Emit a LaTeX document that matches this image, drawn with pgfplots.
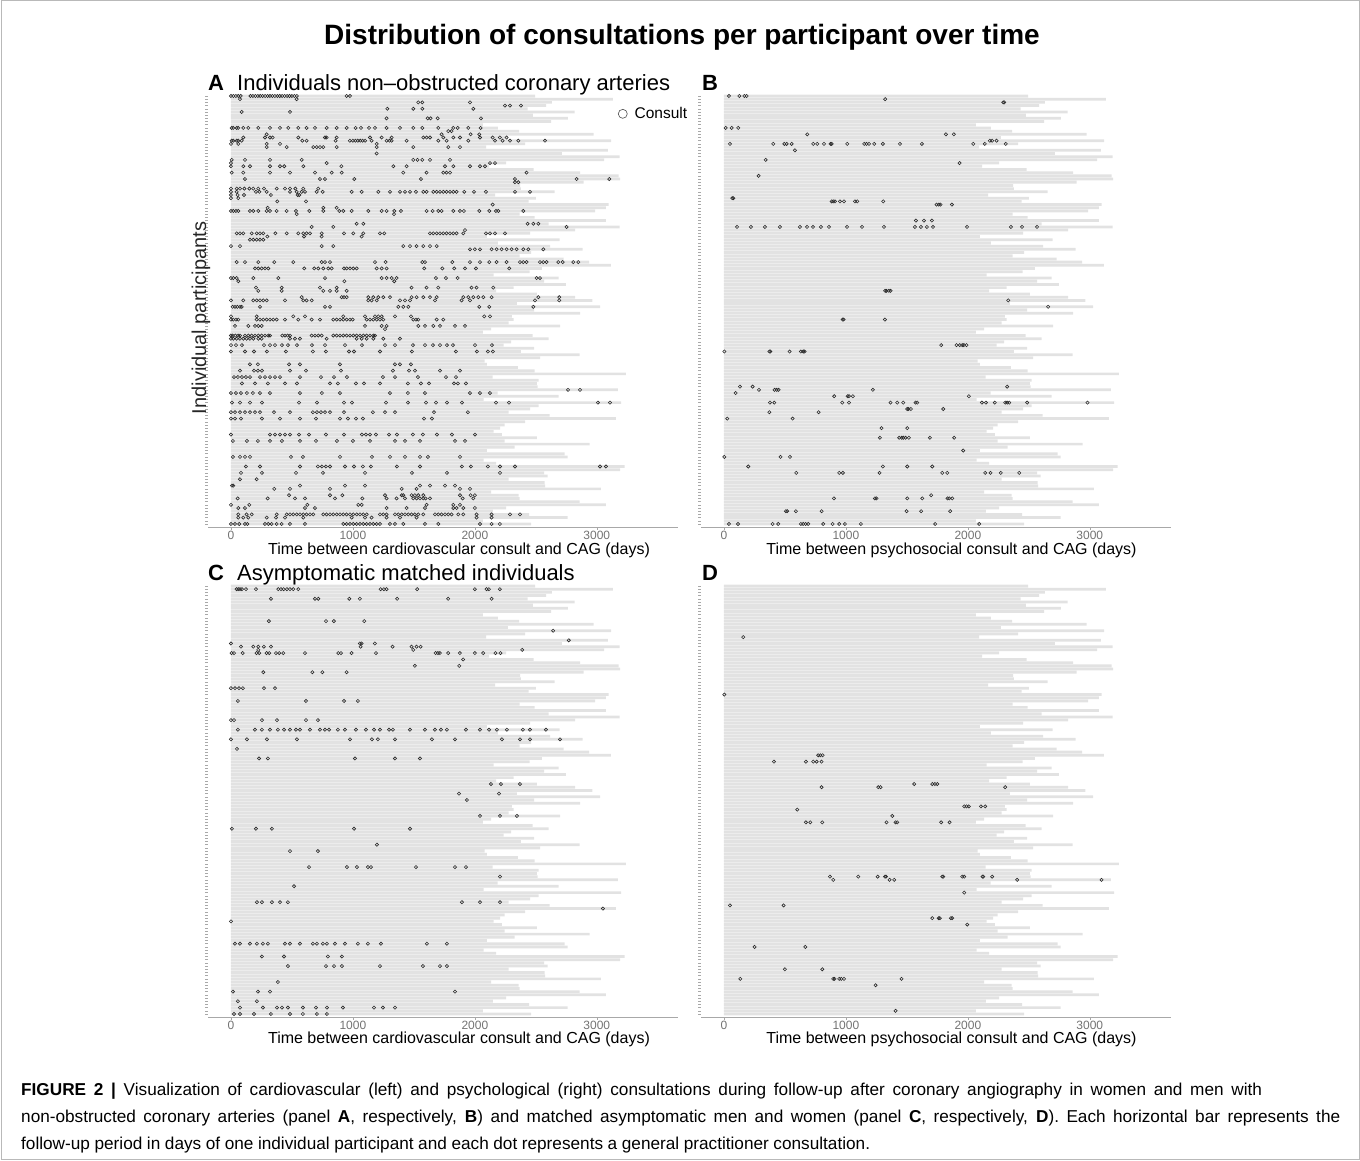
\documentclass[border=0pt]{standalone}
\usepackage{pgfplots}
\pgfplotsset{compat=1.18}
\usepackage{pgfplotstable}
\usepackage{fontspec}
\setmainfont{Liberation Sans}
\newfontfamily\capfont{Liberation Sans}
\definecolor{barcol}{HTML}{E2E2E2}
\definecolor{dotcol}{HTML}{2A2A2A}
\definecolor{axcol}{HTML}{A8A8A8}

\pgfplotstableread{
p len
135 2494
134 3131
133 2631
132 2585
131 2432
130 2817
129 2475
128 2762
127 2626
126 2066
125 2189
124 2363
123 2973
122 2270
121 3117
120 2413
119 2093
118 3090
117 2713
116 3186
115 3060
114 2257
113 2117
112 2481
111 2863
110 3178
109 3191
108 2891
107 2372
106 2377
105 2653
104 2167
103 2500
102 2440
101 3096
100 3074
99 2986
98 2366
97 2489
96 3074
95 2604
94 3186
93 2822
92 2454
91 2098
90 2694
89 2189
88 2617
87 2883
86 2462
85 2366
84 2727
83 2937
82 3115
81 2549
80 2448
79 2153
78 2686
77 2568
76 2746
75 2317
74 2175
73 2508
72 2822
71 2964
70 2344
69 3027
68 2486
67 2863
66 2303
65 2317
64 2276
63 2699
62 2134
61 2066
60 2473
59 2604
58 2298
57 2235
56 2486
55 2377
54 2858
53 2536
52 2079
51 2098
50 2352
49 2489
48 3238
47 2145
46 2522
45 2508
44 2514
43 3172
42 2186
41 2686
40 2071
39 3200
38 2522
37 2454
36 2276
35 2612
34 3156
33 2413
32 2243
31 2208
30 2153
29 2221
28 2508
27 2243
26 2940
25 2325
24 2098
23 2735
22 2760
21 2071
20 2175
19 3227
18 3191
17 2568
16 2596
15 2276
14 2571
13 2577
12 3033
11 2134
10 2358
9 2366
8 2858
7 3074
6 2257
5 2147
4 2445
3 2760
2 2066
1 2462
}\bars

\pgfplotsset{
  panel/.style={
    scale only axis, width=470pt, height=434pt,
    xmin=-185, xmax=3669, ymin=0.06, ymax=135.94,
    axis x line=bottom, axis y line=left,
    axis line style={-, draw=axcol, line width=0.7pt},
    y axis line style={draw=none},
    xtick={0,1000,2000,3000},
    ytick={1,...,135}, yticklabel=\empty,
    tick align=outside, major tick length=3pt,
    tick style={draw=axcol, line width=0.5pt},
    xticklabel style={font=\fontsize{12}{12}\selectfont, text=black!55, inner sep=0.5pt},
    /pgf/number format/1000 sep={},
    /pgf/number format/assume math mode=true,
  },
  barsty/.style={xbar, bar width=2.7pt, fill=barcol, draw=none, forget plot},
  dotsty/.style={only marks, mark=o, mark size=1.6pt, mark options={draw=dotcol, line width=0.6pt}},
}

\begin{document}
\begin{tikzpicture}[x=1pt,y=1pt]
\path[use as bounding box] (0,0) rectangle (1360,1161);
\draw[gray!55, line width=1pt] (1,1) rectangle (1359,1160);
\node[anchor=base, inner sep=0, font=\bfseries\fontsize{28}{30}\selectfont] at (682,1116) {Distribution of consultations per participant over time};

% ---------- Panel A ----------
\begin{axis}[panel, at={(208.4pt,1068pt)}, anchor=north west,
  legend style={at={(rel axis cs:0.871,0.952)}, anchor=west, draw=none, fill=none,
    font=\fontsize{15.5}{15.5}\selectfont, inner sep=0pt, legend cell align=left}]
\addplot[barsty] table[x=len, y=p] {\bars};
\addplot[dotsty, legend image code/.code={\draw[black!70, line width=0.6pt] (0.1cm,0cm) circle (4.5pt);}] coordinates {
(0,135)(20,135)(40,135)(60,135)(80,135)(160,135)(180,135)(200,135)(220,135)(240,135)(260,135)(280,135)(300,135)(320,135)(340,135)(360,135)(380,135)(400,135)(420,135)(440,135)(460,135)(480,135)(500,135)(520,135)(540,135)(948,135)(976,135)
(74,134)(539,134)
(1536,133)(1569,133)(1960,133)
(2247,132)(2288,132)(2378,132)
(1282,131)(1495,131)(1569,131)(1987,131)
(88,130)(484,130)
(1276,128)(1613,128)(1637,128)(1695,128)(2050,128)
(6,125)(19,125)(47,125)(60,125)(101,125)(142,125)(224,125)(320,125)(402,125)(470,125)(552,125)(620,125)(689,125)(785,125)(867,125)(949,125)(1022,125)(1066,125)(1132,125)(1181,125)(1276,125)(1386,125)(1495,125)(1569,125)(1700,125)(1823,125)(1859,125)(1946,125)(2047,125)
(1782,124)(1809,124)
(293,123)(1727,123)(1965,123)(2036,123)
(101,122)(279,122)(320,122)(342,122)(552,122)(771,122)(785,122)(867,122)(1140,122)(1236,122)(1318,122)(1577,122)(1604,122)(1632,122)(1741,122)(1823,122)(1878,122)(2042,122)(2146,122)(2205,122)(2260,122)
(6,121)(19,121)(47,121)(60,121)(88,121)(585,121)(620,121)(858,121)(975,121)(1000,121)(1020,121)(1040,121)(1060,121)(1080,121)(1100,121)(1153,121)(1276,121)(1300,121)(1317,121)(1440,121)(1700,121)(1768,121)(1946,121)(2165,121)(2227,121)(2288,121)(2356,121)(2575,121)
(0,120)(60,120)(293,120)(402,120)(1195,120)
(293,119)(457,119)(675,119)(703,119)(730,119)(757,119)(867,119)(1195,119)(1495,119)(1782,119)(1878,119)
(1195,117)
(6,115)(115,115)(320,115)(580,115)(1495,115)(1530,115)(1569,115)(1632,115)(1796,115)
(0,114)(785,114)(2124,114)(2165,114)
(0,113)(101,113)(156,113)(320,113)(402,113)(437,113)(593,113)(905,113)(1331,113)(1440,113)(1755,113)(1823,113)(1960,113)(2042,113)(2083,113)
(6,111)(101,111)(320,111)(484,111)(689,111)(826,111)(908,111)(1413,111)(1604,111)(1741,111)(1768,111)(1796,111)(2424,111)
(115,109)(730,109)(771,109)(1011,109)(1558,109)(2329,109)(2834,109)(3102,109)
(2329,108)(2356,108)
(0,106)(47,106)(74,106)(110,106)(151,106)(183,106)(224,106)(271,106)(375,106)(443,106)(484,106)(528,106)(593,106)(716,106)
(0,105)(47,105)(205,105)(233,105)(293,105)(484,105)(539,105)(580,105)(607,105)(703,105)(752,105)(990,105)(1072,105)(1208,105)(1304,105)(1386,105)(1427,105)(1468,105)(1517,105)(1577,105)(1604,105)(1659,105)(1687,105)(1714,105)(1741,105)(1768,105)(1796,105)(1823,105)(1850,105)(1913,105)(1993,105)(2091,105)(2329,105)(2452,105)
(0,104)(55,104)(107,104)(328,104)(547,104)(560,104)
(0,103)(60,103)
(380,102)(615,102)
(2146,101)
(301,100)(757,100)(867,100)
(0,99)(19,99)(41,99)(60,99)(156,99)(183,99)(224,99)(293,99)(320,99)(375,99)(457,99)(533,99)(642,99)(757,99)(888,99)(921,99)(990,99)(1126,99)(1236,99)(1276,99)(1339,99)(1394,99)(1604,99)(1654,99)(1700,99)(1727,99)(1823,99)(1878,99)(1910,99)(2036,99)(2118,99)(2173,99)(2192,99)(2397,99)
(539,98)(1337,98)
(1031,95)(1085,95)(2432,95)(2479,95)(2520,95)
(662,94)(839,94)(2752,94)
(1919,93)
(47,92)(74,92)(101,92)(170,92)(211,92)(238,92)(265,92)(364,92)(457,92)(552,92)(593,92)(620,92)(648,92)(744,92)(927,92)(1003,92)(1085,92)(1222,92)(1257,92)(1632,92)(1659,92)(1687,92)(1714,92)(1741,92)(1768,92)(1796,92)(1823,92)(1850,92)(1905,92)(2091,92)(2124,92)(2165,92)(2247,92)
(298,91)(599,91)(744,91)(1072,91)
(156,90)(183,90)(211,90)(238,90)(265,90)
(0,88)(74,88)(744,88)(839,88)(1413,88)(1468,88)(1522,88)(1577,88)(1632,88)(1687,88)
(1960,87)(2000,87)(2042,87)(2137,87)(2178,87)(2219,87)(2260,87)(2301,87)(2342,87)(2397,87)(2438,87)(2561,87)
(47,83)(115,83)(224,83)(355,83)(511,83)(744,83)(771,83)(812,83)(1181,83)(1268,83)(1569,83)(1591,83)(1815,83)(1960,83)(2042,83)(2118,83)(2178,83)(2260,83)(2370,83)(2397,83)(2424,83)(2534,83)(2561,83)(2588,83)(2684,83)(2720,83)(2807,83)(2848,83)
(197,81)(224,81)(252,81)(279,81)(306,81)(601,81)(683,81)(716,81)(757,81)(798,81)(826,81)(927,81)(949,81)(976,81)(1003,81)(1031,81)(1195,81)(1236,81)(1276,81)(1585,81)(1733,81)(1831,81)(1919,81)(2009,81)(2282,81)
(0,78)(19,78)(47,78)(183,78)(388,78)(771,78)(1236,78)(1276,78)(1318,78)(1358,78)(1681,78)(1763,78)(1859,78)(2506,78)(2534,78)
(60,77)(930,77)(1339,77)
(205,75)(416,75)(730,75)(867,75)(1481,75)(1604,75)(1700,75)(1973,75)(2014,75)(2151,75)
(224,74)(416,74)(757,74)(812,74)(867,74)(949,74)
(580,72)(908,72)(927,72)(949,72)(1126,72)(1167,72)(1208,72)(1249,72)(1304,72)(1481,72)(1522,72)(1577,72)(1632,72)(1687,72)(1905,72)(1946,72)(1987,72)(2028,72)(2069,72)(2137,72)(2520,72)(2692,72)
(0,71)(101,71)(183,71)(211,71)(238,71)(265,71)(293,71)(443,71)(593,71)(620,71)(662,71)(1126,71)(1153,71)(1195,71)(1386,71)(1427,71)(1468,71)(1673,71)(1891,71)(1960,71)(2493,71)(2692,71)
(14,69)(33,69)(52,69)(74,69)(88,69)(238,69)(771,69)(812,69)(1372,69)(1413,69)(1454,69)(2036,69)(2118,69)(2479,69)
(0,66)(211,66)(511,66)(607,66)(921,66)(1099,66)(1181,66)(1208,66)(1236,66)(1345,66)(1476,66)(2077,66)(2124,66)
(0,65)(19,65)(41,65)(60,65)(211,65)(238,65)(265,65)(293,65)(320,65)(347,65)(375,65)(443,65)(552,65)(662,65)(730,65)(839,65)(867,65)(894,65)(921,65)(949,65)(976,65)(998,65)(1113,65)(1140,65)(1167,65)(1195,65)(1222,65)(1249,65)(1495,65)(1517,65)(1536,65)(1687,65)(1741,65)
(33,63)(142,63)(197,63)(224,63)(252,63)(1099,63)(1236,63)(1276,63)(1536,63)(1591,63)(1659,63)(1714,63)(1837,63)(1919,63)
(1263,62)
(0,60)(14,60)(36,60)(58,60)(74,60)(115,60)(142,60)(170,60)(197,60)(224,60)(252,60)(279,60)(306,60)(320,60)(421,60)(443,60)(465,60)(484,60)(662,60)(689,60)(716,60)(744,60)(839,60)(867,60)(894,60)(921,60)(949,60)(976,60)(1003,60)(1031,60)(1058,60)(1085,60)(1113,60)(1140,60)(1167,60)(1181,60)
(0,59)(19,59)(47,59)(74,59)(101,59)(128,59)(156,59)(183,59)(224,59)(252,59)(484,59)(525,59)(566,59)(785,59)(1031,59)(1072,59)(1113,59)(1167,59)(1249,59)(1386,59)
(0,57)(41,57)(90,57)(271,57)(320,57)(361,57)(418,57)(467,57)(541,57)(664,57)(771,57)(935,57)(1074,57)(1263,57)(1345,57)(1492,57)(1591,57)(1656,57)(1714,57)(1771,57)(1820,57)(2001,57)(2140,57)
(0,55)(115,55)(189,55)(295,55)(451,55)(672,55)(779,55)(968,55)(1009,55)(1222,55)(1484,55)(1845,55)(2017,55)(2107,55)(2148,55)
(156,51)(221,51)(476,51)(566,51)(894,51)(1345,51)(1386,51)(1476,51)
(74,49)(189,49)(221,49)(254,49)(484,49)(615,49)(902,49)(1328,49)(1460,49)(1509,49)(1714,49)(1878,49)
(25,47)(57,47)(90,47)(123,47)(156,47)(238,47)(279,47)(320,47)(361,47)(402,47)(566,47)(738,47)(845,47)(951,47)(1246,47)(1345,47)(1533,47)(1763,47)(1845,47)
(90,45)(197,45)(303,45)(443,45)(541,45)(812,45)(877,45)(1025,45)(1091,45)(1222,45)(1451,45)(1558,45)(1624,45)(1829,45)(1861,45)(1927,45)
(2764,43)(2862,43)
(0,42)(41,42)(82,42)(131,42)(180,42)(238,42)(320,42)(566,42)(746,42)(894,42)(1304,42)(1451,42)(1591,42)(1960,42)(2042,42)(2124,42)
(8,39)(74,39)(156,39)(254,39)(558,39)(705,39)(927,39)(992,39)(1271,39)(1451,39)(1599,39)(1681,39)(1771,39)(1894,39)(2173,39)(2280,39)(3009,39)(3108,39)
(0,36)(33,36)(74,36)(115,36)(156,36)(197,36)(238,36)(353,36)(484,36)(672,36)(705,36)(738,36)(771,36)(812,36)(927,36)(1164,36)(1263,36)(1345,36)(1665,36)(1943,36)
(0,34)(33,34)(82,34)(254,34)(402,34)(566,34)(697,34)(894,34)(959,34)(1025,34)(1082,34)(1583,34)(1648,34)
(0,29)(320,29)(361,29)(402,29)(443,29)(484,29)(558,29)(640,29)(779,29)(927,29)(1074,29)(1107,29)(1140,29)(1189,29)(1296,29)(1361,29)(1492,29)(1574,29)(1689,29)(1812,29)(2001,29)
(16,27)(131,27)(221,27)(320,27)(418,27)(566,27)(697,27)(869,27)(1000,27)(1140,27)(1345,27)(1427,27)(1550,27)(1837,27)(1919,27)
(16,22)(74,22)(115,22)(156,22)(492,22)(590,22)(894,22)(1156,22)(1304,22)(1427,22)(1550,22)(1615,22)(1878,22)
(123,19)(238,19)(566,19)(713,19)(746,19)(779,19)(812,19)(935,19)(1009,19)(1082,19)(1148,19)(1361,19)(1550,19)(1894,19)(1968,19)(2107,19)(2206,19)(2329,19)(3026,19)(3075,19)
(82,17)(254,17)(533,17)(754,17)(1099,17)(1484,17)(1771,17)(2206,17)
(74,15)(211,15)
(8,13)(19,13)(566,13)(935,13)(1099,13)(1550,13)(1632,13)(1755,13)(1837,13)
(355,12)(484,12)(812,12)(1400,12)(1522,12)(1878,12)(1960,12)
(476,10)(812,10)(913,10)(1263,10)(1400,10)(1413,10)(1481,10)(1508,10)(1536,10)(1577,10)(1878,10)(1965,10)(2000,10)
(55,9)(301,9)(525,9)(607,9)(853,9)(1077,9)(1276,9)(1358,9)(1427,9)(1495,9)(1522,9)(1550,9)(1577,9)(1596,9)(1632,9)(1900,9)(1987,9)
(0,7)(150,7)(626,7)(1044,7)(1072,7)(1604,7)(1823,7)(1878,7)
(60,6)(115,6)(607,6)(689,6)(1276,6)(1440,6)(1591,6)(1823,6)(1850,6)(1905,6)(2000,6)
(60,4)(128,4)(170,4)(375,4)(457,4)(484,4)(511,4)(539,4)(566,4)(593,4)(620,4)(648,4)(675,4)(757,4)(784,4)(812,4)(839,4)(867,4)(894,4)(921,4)(948,4)(976,4)(1003,4)(1031,4)(1058,4)(1085,4)(1113,4)(1222,4)(1249,4)(1276,4)(1345,4)(1372,4)(1400,4)(1427,4)(1454,4)(1481,4)(1508,4)(1536,4)(1577,4)(1673,4)(1700,4)(1727,4)(1755,4)(1782,4)(1809,4)(1864,4)(1905,4)(2014,4)(2137,4)(2288,4)(2370,4)
(60,3)(101,3)(142,3)(293,3)(369,3)(443,3)(593,3)(990,3)(1099,3)(1153,3)(1276,3)(1386,3)(1522,3)(2014,3)(2137,3)
(0,1)(33,1)(68,1)(115,1)(134,1)(279,1)(306,1)(334,1)(375,1)(416,1)(484,1)(607,1)(921,1)(949,1)(976,1)(1003,1)(1031,1)(1058,1)(1085,1)(1113,1)(1140,1)(1167,1)(1195,1)(1222,1)(1304,1)(1345,1)(1413,1)(1591,1)(1700,1)(2042,1)(2137,1)(2205,1)
};
\addlegendentry{\hspace{5pt}Consult}
\end{axis}

% ---------- Panel B ----------
\begin{axis}[panel, at={(701.4pt,1068pt)}, anchor=north west]
\addplot[barsty] table[x=len, y=p] {\bars};
\addplot[dotsty] coordinates {
(41,135)(126,135)(167,135)(186,135)
(1322,134)
(2290,133)(2298,133)
(14,125)(63,125)(117,125)
(683,123)(1820,123)(1885,123)
(2180,121)(2199,121)(2235,121)
(49,120)(404,120)(495,120)(514,120)(555,120)(732,120)(765,120)(820,120)(874,120)(883,120)(1011,120)(1150,120)(1169,120)(1189,120)(1232,120)(1303,120)(1443,120)(1623,120)(2044,120)(2139,120)(2311,120)
(582,118)
(342,115)
(1932,114)
(284,110)
(68,103)(77,103)
(883,102)(896,102)(910,102)(951,102)(984,102)(1074,102)(1093,102)(1306,102)
(1743,101)(1762,101)(1776,101)(1869,101)
(1574,96)(1640,96)(1705,96)
(107,94)(221,94)(336,94)(459,94)(623,94)(681,94)(730,94)(795,94)(861,94)(1009,94)(1132,94)(1312,94)(1566,94)(1615,94)(1664,94)(1714,94)(1993,94)(2353,94)(2444,94)(2567,94)
(1322,74)(1333,74)(1352,74)(1366,74)
(2331,71)
(2658,69)
(973,65)(981,65)(1320,65)
(1781,57)(1907,57)(1934,57)(1954,57)(1967,57)(1989,57)
(3,55)(372,55)(380,55)(538,55)(631,55)(650,55)(661,55)
(131,44)(235,44)(2322,44)
(287,43)(415,43)(432,43)(448,43)(1221,43)
(96,42)
(904,41)(1014,41)(1025,41)(1057,41)(2008,41)
(377,39)(413,39)(970,39)(1025,39)(1366,39)(1421,39)(1470,39)(1571,39)(1585,39)(2115,39)(2148,39)(2221,39)(2306,39)(2322,39)(2339,39)(2486,39)(2981,39)
(1503,37)(1514,37)(1533,37)(1798,37)
(372,36)(776,36)
(27,34)(563,34)
(1292,31)(1503,31)
(1279,28)(1437,28)(1456,28)(1470,28)(1489,28)(1516,28)(1689,28)(1888,28)
(1962,24)
(3,22)(464,22)(541,22)
(199,19)(1303,19)(1503,19)(1708,19)
(593,17)(945,17)(975,17)(1276,17)(1790,17)(1831,17)(2142,17)(2186,17)(2270,17)(2421,17)
(1699,10)
(902,9)(1238,9)(1251,9)(1503,9)(1626,9)(1833,9)(1847,9)(1872,9)
(508,5)(519,5)(590,5)(801,5)(1497,5)(1617,5)(1855,5)
(41,1)(115,1)(399,1)(445,1)(631,1)(650,1)(669,1)(691,1)(814,1)(891,1)(945,1)(992,1)(1123,1)(1732,1)(2093,1)
};
\end{axis}

% ---------- Panel C ----------
\begin{axis}[panel, at={(208.4pt,578pt)}, anchor=north west]
\addplot[barsty] table[x=len, y=p] {\bars};
\addplot[dotsty] coordinates {
(46,134)(60,134)(74,134)(90,134)(123,134)(205,134)(388,134)(410,134)(432,134)(459,134)(484,134)(511,134)(552,134)(1227,134)(1254,134)(1276,134)(1527,134)(2000,134)(2096,134)(2115,134)(2205,134)
(328,131)(689,131)(716,131)(970,131)(1057,131)(1363,131)(1781,131)(2137,131)
(311,124)(779,124)(844,124)(1093,124)
(2642,121)
(2770,118)
(0,117)(1057,117)(1071,117)(1180,117)
(82,116)(183,116)(224,116)(270,116)(328,116)(1063,116)(1325,116)(1481,116)(1522,116)(1555,116)
(224,115)(1495,115)(2388,115)
(5,114)(25,114)(96,114)(210,114)(232,114)(292,114)(314,114)(369,114)(396,114)(429,114)(607,114)(880,114)(902,114)(989,114)(1189,114)(1678,114)(1697,114)(1713,114)(1781,114)(1877,114)(2000,114)(2068,114)(2169,114)(2210,114)
(1904,112)
(1508,110)(1872,110)
(265,108)(667,108)(749,108)(948,108)
(0,103)(33,103)(66,103)(98,103)(271,103)(361,103)
(57,99)(615,99)(927,99)(1041,99)
(0,93)(25,93)(254,93)(377,93)(615,93)(713,93)
(57,90)(197,90)(254,90)(320,90)(385,90)(435,90)(484,90)(533,90)(566,90)(648,90)(730,90)(771,90)(804,90)(877,90)(935,90)(1025,90)(1107,90)(1173,90)(1222,90)(1296,90)(1328,90)(1468,90)(1591,90)(1673,90)(1722,90)(1771,90)(1927,90)(2042,90)(2116,90)(2181,90)(2263,90)(2394,90)(2452,90)(2583,90)
(0,87)(131,87)(295,87)(541,87)(976,87)(1156,87)(1205,87)(1345,87)(1648,87)(1837,87)(2222,87)(2370,87)(2452,87)(2698,87)
(49,84)
(230,81)(303,81)(1017,81)(1345,81)(1550,81)
(2132,73)(2214,73)(2370,73)
(1870,70)(2198,70)
(1935,68)
(2042,63)(2206,63)(2345,63)
(8,59)(205,59)(336,59)(1009,59)(1468,59)
(1197,54)
(484,52)(713,52)
(640,47)(951,47)(1033,47)(1123,47)(1148,47)(1517,47)(1837,47)(1927,47)
(2206,44)
(517,41)
(213,36)(254,36)(336,36)(402,36)(467,36)(1894,36)(2042,36)(2206,36)
(3050,34)
(0,30)
(33,23)(74,23)(156,23)(213,23)(262,23)(303,23)(443,23)(484,23)(566,23)(672,23)(705,23)(754,23)(787,23)(853,23)(935,23)(1041,23)(1123,23)(1230,23)(1607,23)(1771,23)
(254,19)(435,19)(795,19)(910,19)
(467,16)(779,16)(845,16)(910,16)(1222,16)(1574,16)(1714,16)(1771,16)
(385,11)
(16,8)(221,8)(320,8)(1837,8)
(57,5)(213,5)
(74,3)(262,3)(377,3)(418,3)(467,3)(590,3)(697,3)(787,3)(918,3)(1173,3)(1246,3)(1345,3)
(25,1)(74,1)(189,1)(328,1)(484,1)(590,1)(705,1)(787,1)
};
\end{axis}

% ---------- Panel D ----------
\begin{axis}[panel, at={(701.4pt,578pt)}, anchor=north west]
\addplot[barsty] table[x=len, y=p] {\bars};
\addplot[dotsty] coordinates {
(158,119)
(3,101)
(773,82)(790,82)(809,82)
(410,80)(672,80)(732,80)(760,80)(800,80)
(1560,73)(1708,73)(1730,73)(1749,73)
(800,72)(1265,72)(1284,72)(2306,72)
(1970,66)(1989,66)(2008,66)(2107,66)(2142,66)
(601,65)
(1380,63)
(672,61)(708,61)(806,61)(1333,61)(1407,61)(1421,61)(1781,61)(1850,61)
(869,44)(1101,44)(1260,44)(1320,44)(1328,44)(1790,44)(1798,44)(1954,44)(1970,44)(2120,44)(2126,44)(2199,44)
(896,43)(1358,43)(1396,43)(2404,43)(3096,43)
(1970,39)
(49,35)(489,35)
(1708,31)(1760,31)(1770,31)(1861,31)(1872,31)
(1995,29)
(251,22)(667,22)
(500,15)(806,15)
(134,12)(896,12)(907,12)(945,12)(962,12)(984,12)(1456,12)
(1243,10)
(1407,2)
};
\end{axis}

% ---------- texts ----------
\node[anchor=base west, inner sep=0, font=\bfseries\fontsize{22}{24}\selectfont] at (208,1070) {A};
\node[anchor=base west, inner sep=0, font=\fontsize{22}{24}\selectfont] at (237,1070) {Individuals non–obstructed coronary arteries};
\node[anchor=base west, inner sep=0, font=\bfseries\fontsize{22}{24}\selectfont] at (702,1070) {B};
\node[anchor=base west, inner sep=0, font=\bfseries\fontsize{22}{24}\selectfont] at (208,580) {C};
\node[anchor=base west, inner sep=0, font=\fontsize{22}{24}\selectfont] at (237,580) {Asymptomatic matched individuals};
\node[anchor=base west, inner sep=0, font=\bfseries\fontsize{22}{24}\selectfont] at (702,580) {D};

\node[rotate=90, inner sep=0, font=\fontsize{20}{20}\selectfont, text=black!85] at (201,843) {Individual participants};

\node[anchor=base, inner sep=0, font=\fontsize{16}{16}\selectfont] at (459,606.5) {Time between cardiovascular consult and CAG (days)};
\node[anchor=base, inner sep=0, font=\fontsize{16}{16}\selectfont] at (951.5,606.5) {Time between psychosocial consult and CAG (days)};
\node[anchor=base, inner sep=0, font=\fontsize{16}{16}\selectfont] at (459,117) {Time between cardiovascular consult and CAG (days)};
\node[anchor=base, inner sep=0, font=\fontsize{16}{16}\selectfont] at (951.5,117) {Time between psychosocial consult and CAG (days)};

\node[anchor=base west, inner sep=0] at (21,65) {\capfont\fontsize{17.2}{19}\selectfont\makebox[1241pt][s]{\textbf{FIGURE 2 |} Visualization of cardiovascular (left) and psychological (right) consultations during follow-up after coronary angiography in women and men with}};
\node[anchor=base west, inner sep=0] at (21,38) {\capfont\fontsize{17.2}{19}\selectfont\makebox[1319pt][s]{non-obstructed coronary arteries (panel \textbf{A}, respectively, \textbf{B}) and matched asymptomatic men and women (panel \textbf{C}, respectively, \textbf{D}). Each horizontal bar represents the}};
\node[anchor=base west, inner sep=0] at (21,11) {\capfont\fontsize{17.2}{19}\selectfont\makebox[849pt][s]{follow-up period in days of one individual participant and each dot represents a general practitioner consultation.}};
\end{tikzpicture}
\end{document}
